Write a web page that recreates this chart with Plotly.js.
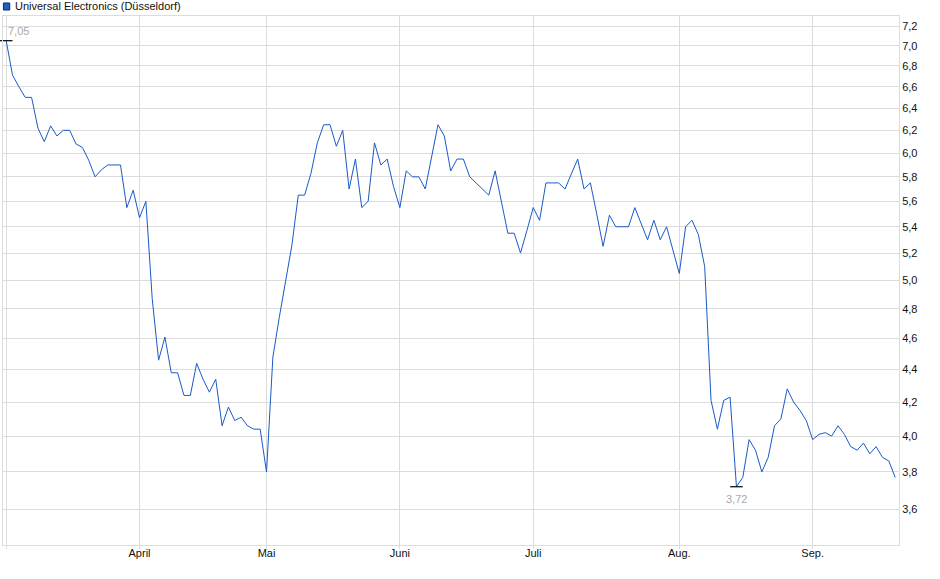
<!DOCTYPE html>
<html>
<head>
<meta charset="utf-8">
<script src="https://cdn.plot.ly/plotly-3.0.1.min.js"></script>
<style>
  html, body { margin: 0; padding: 0; background: #fff; }
  #chart { width: 940px; height: 579px; }
</style>
</head>
<body>
<div id="chart"></div>
<script>
// daily closing prices (EUR), one per trading day
const prices = [
  7.05, 6.71, 6.60, 6.50, 6.50, 6.22, 6.10, 6.24, 6.15, 6.20,
  6.20, 6.08, 6.05, 5.94, 5.80, 5.86, 5.90, 5.90, 5.90, 5.55,
  5.69, 5.47, 5.60, 4.87, 4.46, 4.61, 4.38, 4.38, 4.24, 4.24,
  4.44, 4.34, 4.26, 4.34, 4.06, 4.17, 4.09, 4.11, 4.06, 4.04,
  4.04, 3.80, 4.48, 4.74, 4.98, 5.26, 5.65, 5.65, 5.83, 6.09,
  6.25, 6.25, 6.06, 6.20, 5.70, 5.95, 5.55, 5.60, 6.09, 5.90,
  5.95, 5.72, 5.55, 5.85, 5.80, 5.80, 5.70, 5.98, 6.25, 6.15,
  5.85, 5.95, 5.95, 5.80, 5.75, 5.70, 5.65, 5.85, 5.60, 5.35,
  5.35, 5.20, 5.37, 5.55, 5.45, 5.75, 5.75, 5.75, 5.70, 5.83,
  5.95, 5.70, 5.75, 5.50, 5.25, 5.49, 5.40, 5.40, 5.40, 5.55,
  5.42, 5.30, 5.45, 5.30, 5.40, 5.23, 5.05, 5.40, 5.45, 5.34,
  5.10, 4.21, 4.04, 4.21, 4.23, 3.72, 3.77, 3.98, 3.92, 3.80,
  3.88, 4.06, 4.10, 4.28, 4.20, 4.15, 4.09, 3.98, 4.01, 4.02,
  4.00, 4.06, 4.01, 3.94, 3.92, 3.96, 3.90, 3.94, 3.88, 3.86,
  3.77
];

// trading-day index of each month start
const monthIdx = [0, 21, 41, 62, 83, 106, 127];
const monthNames = ['', 'April', 'Mai', 'Juni', 'Juli', 'Aug.', 'Sep.'];

const yTicks = [3.6, 3.8, 4.0, 4.2, 4.4, 4.6, 4.8, 5.0, 5.2, 5.4, 5.6, 5.8, 6.0, 6.2, 6.4, 6.6, 6.8, 7.0, 7.2];

const seriesName = 'Universal Electronics (Düsseldorf)';

var days = prices.map((p, i) => i);

var maxVal = Math.max(...prices);
var minVal = Math.min(...prices);
var maxIdx = prices.indexOf(maxVal);
var minIdx = prices.indexOf(minVal);

var fmt = v => v.toFixed(2).replace('.', ',');

var line = {
    x: days,
    y: prices,
    type: 'scatter',
    mode: 'lines',
    name: seriesName,
    line: { color: '#1a5ac8', width: 1 },
    hoverinfo: 'skip'
};

// small black dashes on the high and the low
var extremes = {
    x: [maxIdx, minIdx],
    y: [maxVal, minVal],
    type: 'scatter',
    mode: 'markers',
    marker: { symbol: 'line-ew', size: 9, line: { color: '#000', width: 1.2 } },
    cliponaxis: false,
    hoverinfo: 'skip'
};

var labelFont = { family: 'Liberation Sans, Arial, sans-serif', size: 11, color: '#a9a9a9' };

var layout = {
    width: 940,
    height: 579,
    margin: { l: 3, r: 41, t: 16, b: 34 },
    paper_bgcolor: '#fff',
    plot_bgcolor: '#fff',
    showlegend: false,
    separators: ',.',
    font: { family: 'Liberation Sans, Arial, sans-serif', size: 11, color: '#111' },
    xaxis: {
        range: [-0.5, 140.6],
        tickmode: 'array',
        tickvals: monthIdx,
        ticktext: monthNames,
        showgrid: true,
        gridcolor: '#dcdcdc',
        gridwidth: 1,
        ticks: 'outside',
        ticklen: 3,
        tickcolor: '#dcdcdc',
        ticklabelstandoff: -5,
        showline: true,
        linecolor: '#dcdcdc',
        mirror: true,
        zeroline: false,
        tickfont: { size: 11, color: '#111' }
    },
    yaxis: {
        type: 'log',
        side: 'right',
        range: [Math.log10(3.422), Math.log10(7.304)],
        tickmode: 'array',
        tickvals: yTicks,
        tickformat: '.1f',
        showgrid: true,
        gridcolor: '#dcdcdc',
        gridwidth: 1,
        ticks: '',
        showline: true,
        linecolor: '#dcdcdc',
        mirror: true,
        zeroline: false,
        tickfont: { size: 11, color: '#111' }
    },
    shapes: [{
        type: 'rect',
        xref: 'paper', yref: 'paper',
        x0: 0.0005, x1: 0.0075,
        y0: 1.0113, y1: 1.0246,
        fillcolor: '#1f5fc8',
        line: { color: '#0d2a66', width: 1 }
    }],
    annotations: [{
        xref: 'paper', yref: 'paper',
        x: 0.0115, y: 1.019,
        xanchor: 'left', yanchor: 'middle',
        text: seriesName,
        showarrow: false,
        font: { size: 11, color: '#111' }
    }, {
        x: maxIdx, y: Math.log10(maxVal),
        xanchor: 'left', yanchor: 'bottom',
        xshift: 0, yshift: 2,
        text: fmt(maxVal),
        showarrow: false,
        font: labelFont
    }, {
        x: minIdx, y: Math.log10(minVal),
        xanchor: 'center', yanchor: 'top',
        yshift: -4,
        text: fmt(minVal),
        showarrow: false,
        font: labelFont
    }]
};

Plotly.newPlot('chart', [line, extremes], layout, { staticPlot: true, displayModeBar: false });
</script>
</body>
</html>
